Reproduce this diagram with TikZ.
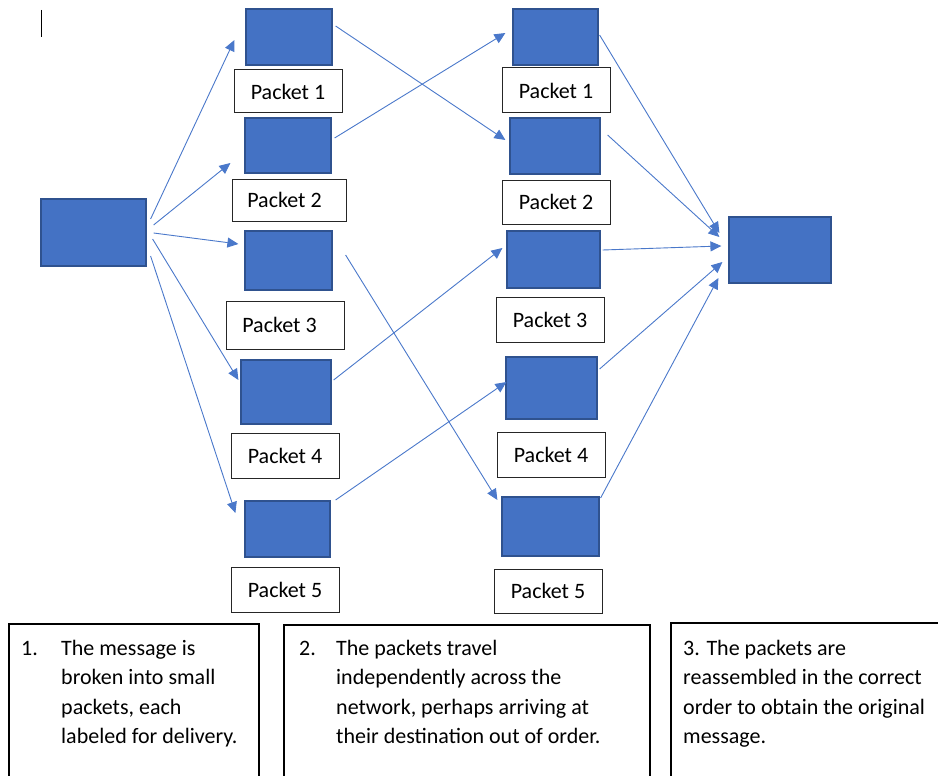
\documentclass[tikz,border=0pt]{standalone}
\usepackage{fontspec}
\setmainfont{Carlito}
\usetikzlibrary{calc,arrows.meta}
\definecolor{boxblue}{HTML}{4472C4}
\definecolor{boxedge}{HTML}{2F528F}
\definecolor{arrblue}{HTML}{4A78CA}
\begin{document}
\begin{tikzpicture}[x=1pt,y=-1pt,
  blk/.style={draw=boxedge, fill=boxblue, line width=1.2pt, inner sep=0pt},
  lbl/.style={draw=black!85, fill=white, line width=1pt, inner sep=0pt, minimum width=108pt,
              font=\fontsize{22}{26}\selectfont},
  arr/.style={draw=arrblue, line width=0.9pt, -{Triangle[length=11pt,width=10pt]}},
  frame/.style={draw=black, line width=1.4pt},
  txt/.style={anchor=base west, inner sep=0pt, font=\fontsize{22}{30}\selectfont}]
\useasboundingbox (0,0) rectangle (938,776);

% text cursor mark
\draw[line width=1pt] (41,10) -- (41,37);

% source and destination
\node[blk, minimum width=105pt, minimum height=67pt] (src) at (93.5,232.5) {};
\node[blk, minimum width=102pt, minimum height=66pt] (D) at (780,250) {};

% left column
\node[blk, minimum width=86pt, minimum height=56pt] (L1) at (289,37) {};
\node[blk, minimum width=86pt, minimum height=55pt] (L2) at (288,145.5) {};
\node[blk, minimum width=87pt, minimum height=59pt] (L3) at (288.5,260.5) {};
\node[blk, minimum width=90pt, minimum height=64pt] (L4) at (286,392) {};
\node[blk, minimum width=85pt, minimum height=56pt] (L5) at (287.5,529) {};

\node[lbl, minimum height=43pt] (P1) at (288,91.5) {Packet 1};
\node[lbl, minimum width=114pt, minimum height=42pt] (P2) at (289,200) {Packet 2\hspace*{9pt}};
\node[lbl, minimum width=118pt, minimum height=48pt] (P3) at (285,325) {Packet 3\hspace*{11pt}};
\node[lbl, minimum height=45pt] (P4) at (285,455.5) {Packet 4};
\node[lbl, minimum height=45pt] (P5) at (285,589.5) {Packet 5};

% right column
\node[blk, minimum width=85pt, minimum height=56pt] (R1) at (555.5,37) {};
\node[blk, minimum width=90pt, minimum height=56pt] (R2) at (555,146) {};
\node[blk, minimum width=93pt, minimum height=57pt] (R3) at (553.5,259.5) {};
\node[blk, minimum width=91pt, minimum height=62pt] (R4) at (551.5,388) {};
\node[blk, minimum width=97pt, minimum height=59pt] (R5) at (550.5,526.5) {};

\node[lbl, minimum height=45pt] (Q1) at (556,90.5) {Packet 1};
\node[lbl, minimum height=44pt] (Q2) at (556,202) {Packet 2};
\node[lbl, minimum height=45pt] (Q3) at (550,319.5) {Packet 3};
\node[lbl, minimum height=45pt] (Q4) at (551,454.5) {Packet 4};
\node[lbl, minimum height=44pt] (Q5) at (548,591) {Packet 5};

% source -> left column
\draw[arr] ($(src.east)+(4,-13.5)$) -- ($(L1.west)+(-11,3)$);
\draw[arr] ($(src.east)+(7,-7.5)$) -- ($(L2.west)+(-14,17.5)$);
\draw[arr] ($(src.east)+(7,0.5)$) -- ($(L3.west)+(-6,-16.5)$);
\draw[arr] ($(src.east)+(6,6.5)$) -- ($(L4.west)+(-2,-12)$);
\draw[arr] ($(src.east)+(4,23.5)$) -- ($(L5.west)+(-9,-16)$);

% left column -> right column
\draw[arr] ($(L1.east)+(3,-11)$) -- ($(R2.west)+(-4,-6)$);
\draw[arr] ($(L2.east)+(3,-7.5)$) -- ($(R1.west)+(-7,-4)$);
\draw[arr] ($(L3.east)+(13,-5.5)$) -- ($(R5.west)+(-4,-26.5)$);
\draw[arr] ($(L4.east)+(2,-12)$) -- ($(R3.west)+(-4,-11.5)$);
\draw[arr] ($(L5.east)+(5,-29)$) -- ($(R4.west)+(1,-6)$);

% right column -> destination
\draw[arr] ($(R1.east)+(1,-2)$) -- ($(D.west)+(-9,-17)$);
\draw[arr] ($(R2.east)+(7,-11)$) -- ($(D.west)+(-9,-13)$);
\draw[arr] ($(R3.east)+(2,-9.5)$) -- ($(D.west)+(-7,-4)$);
\draw[arr] ($(R4.east)+(2,-19)$) -- ($(D.west)+(-6,12)$);
\draw[arr] ($(R5.east)+(1,-28.5)$) -- ($(D.west)+(-10,28)$);

% bottom explanation boxes
\draw[frame] (9,776) -- (9,624) -- (259,624) -- (259,776);
\draw[frame] (284,776) -- (284,625) -- (650,625) -- (650,776);
\draw[frame] (671,776) -- (671,623) -- (938,623);

\node[txt] (n1) at (21,655) {1.};
\node[txt] (a1) at (61,655) {The message is};
\node[txt] (a2) at (61,684.5) {broken into small};
\node[txt] (a3) at (61,714) {packets, each};
\node[txt] (a4) at (61,743.5) {labeled for delivery.};

\node[txt] (n2) at (299,655) {2.};
\node[txt] (b1) at (336,655) {The packets travel};
\node[txt] (b2) at (336,684.5) {independently across the};
\node[txt] (b3) at (336,714) {network, perhaps arriving at};
\node[txt] (b4) at (336,743.5) {their destination out of order.};

\node[txt] (c1) at (683,655) {3. The packets are};
\node[txt] (c2) at (683,684.5) {reassembled in the correct};
\node[txt] (c3) at (683,714) {order to obtain the original};
\node[txt] (c4) at (683,743.5) {message.};
\end{tikzpicture}
\end{document}
